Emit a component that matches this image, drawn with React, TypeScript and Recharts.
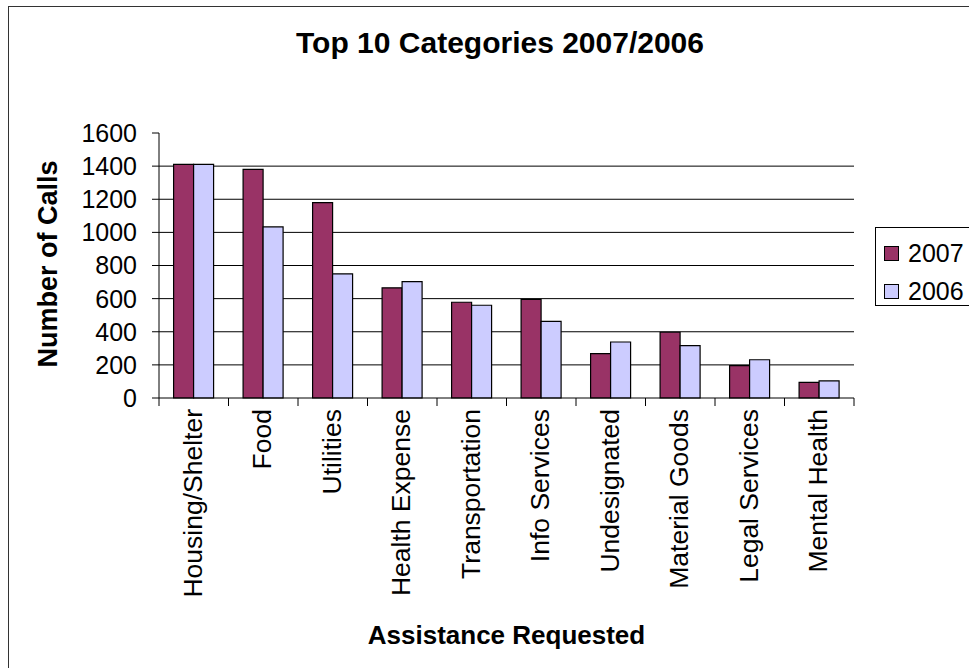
import React from 'react';
import {
  BarChart,
  Bar,
  XAxis,
  YAxis,
  CartesianGrid,
  Legend,
  Label,
} from 'recharts';

const categories = [
  'Housing/Shelter',
  'Food',
  'Utilities',
  'Health Expense',
  'Transportation',
  'Info Services',
  'Undesignated',
  'Material Goods',
  'Legal Services',
  'Mental Health',
];
const calls2007 = [1410, 1380, 1180, 665, 578, 595, 268, 397, 195, 94];
const calls2006 = [1410, 1033, 750, 703, 560, 463, 338, 316, 231, 104];
const yTicks = [0, 200, 400, 600, 800, 1000, 1200, 1400, 1600];

const series = [
  { key: '2007', color: '#993366' },
  { key: '2006', color: '#CCCCFF' },
];

const data = categories.map((name, i) => ({
  name,
  '2007': calls2007[i],
  '2006': calls2006[i],
}));

const FONT = '"Liberation Sans", Arial, sans-serif';
const W = 969;
const H = 668;
const margin = { top: 133, right: 115, bottom: 0, left: 0 };
const yAxisWidth = 159;
const xAxisHeight = 270;
const plotWidth = W - margin.left - margin.right - yAxisWidth;
const band = plotWidth / categories.length;

// category ticks sit between the bars, labels run downwards
function CategoryTick(props: any) {
  const { x, y, payload, index } = props;
  const axisY = y - 11;
  const left = x - band / 2;
  const right = x + band / 2;
  return (
    <g>
      <line x1={left} y1={axisY} x2={left} y2={axisY + 8} stroke="#000" strokeWidth={1} />
      {index === categories.length - 1 && (
        <line x1={right} y1={axisY} x2={right} y2={axisY + 8} stroke="#000" strokeWidth={1} />
      )}
      <text
        x={x}
        y={y}
        dy={8}
        transform={`rotate(-90 ${x} ${y})`}
        textAnchor="end"
        fontSize={26.5}
        fontFamily={FONT}
        fill="#000"
      >
        {payload.value}
      </text>
    </g>
  );
}

function LegendBox() {
  return (
    <div
      style={{
        border: '1px solid #000',
        background: '#fff',
        width: 120,
        height: 79,
        boxSizing: 'border-box',
        paddingTop: 6,
        paddingLeft: 8,
      }}
    >
      {series.map((s) => (
        <div
          key={s.key}
          style={{
            display: 'flex',
            alignItems: 'center',
            height: 38,
            fontFamily: FONT,
            fontSize: 25,
            color: '#000',
          }}
        >
          <span
            style={{
              display: 'inline-block',
              width: 13,
              height: 13,
              background: s.color,
              border: '1.5px solid #000',
              marginRight: 9,
            }}
          />
          {s.key}
        </div>
      ))}
    </div>
  );
}

export default function App() {
  return (
    <div
      style={{
        position: 'absolute',
        left: 0,
        top: 0,
        width: W,
        height: H,
        overflow: 'hidden',
        background: '#fff',
      }}
    >
      <div
        style={{
          position: 'absolute',
          left: 8,
          top: 6,
          width: 1000,
          height: 700,
          border: '1.5px solid #333',
        }}
      />
      <div
        style={{
          position: 'absolute',
          left: 0,
          top: 28,
          width: 1000,
          textAlign: 'center',
          fontFamily: FONT,
          fontWeight: 'bold',
          fontSize: 30,
          lineHeight: '30px',
          color: '#000',
        }}
      >
        Top 10 Categories 2007/2006
      </div>
      <div style={{ position: 'absolute', left: 0, top: 0 }}>
        <BarChart
          width={W}
          height={H}
          data={data}
          margin={margin}
          barCategoryGap="21%"
          barGap={0}
        >
          <CartesianGrid
            vertical={false}
            stroke="#000"
            strokeWidth={1}
            horizontalValues={yTicks.filter((v) => v > 0 && v < 1600)}
          />
          <XAxis
            dataKey="name"
            height={xAxisHeight}
            interval={0}
            tickLine={false}
            tickSize={8}
            tickMargin={3}
            axisLine={{ stroke: '#000', strokeWidth: 1 }}
            tick={<CategoryTick />}
          >
            <Label
              content={() => (
                <text
                  x={yAxisWidth + plotWidth / 2}
                  y={644}
                  textAnchor="middle"
                  fontSize={26}
                  fontWeight="bold"
                  fontFamily={FONT}
                  fill="#000"
                >
                  Assistance Requested
                </text>
              )}
            />
          </XAxis>
          <XAxis
            xAxisId="top"
            orientation="top"
            dataKey="name"
            height={0}
            tick={false}
            tickLine={false}
            axisLine={{ stroke: '#808080', strokeWidth: 1 }}
          />
          <YAxis
            width={yAxisWidth}
            domain={[0, 1600]}
            ticks={yTicks}
            interval={0}
            tickSize={7}
            tickMargin={15}
            tickLine={{ stroke: '#000' }}
            axisLine={{ stroke: '#000', strokeWidth: 1 }}
            tick={{ fontSize: 25, fontFamily: FONT, fill: '#000' }}
          >
            <Label
              content={() => (
                <text
                  x={48}
                  y={264}
                  transform="rotate(-90 48 264)"
                  textAnchor="middle"
                  dy={9}
                  fontSize={27}
                  fontWeight="bold"
                  fontFamily={FONT}
                  fill="#000"
                >
                  Number of Calls
                </text>
              )}
            />
          </YAxis>
          <YAxis
            yAxisId="right"
            orientation="right"
            width={0}
            domain={[0, 1600]}
            tick={false}
            tickLine={false}
            axisLine={{ stroke: '#808080', strokeWidth: 1 }}
          />
          <Legend
            layout="vertical"
            align="center"
            verticalAlign="middle"
            wrapperStyle={{ left: 875, top: 227, width: 120 }}
            content={() => <LegendBox />}
          />
          {series.map((s) => (
            <Bar
              key={s.key}
              dataKey={s.key}
              fill={s.color}
              stroke="#000"
              strokeWidth={1.2}
              isAnimationActive={false}
            />
          ))}
        </BarChart>
      </div>
    </div>
  );
}
